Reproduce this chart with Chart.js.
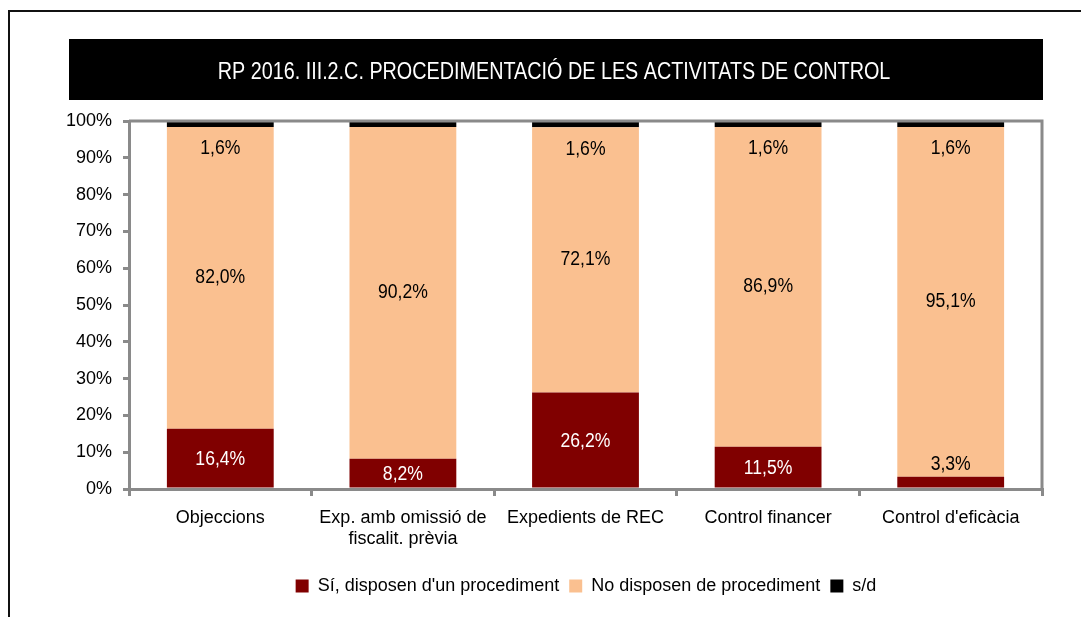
<!DOCTYPE html>
<html>
<head>
<meta charset="utf-8">
<script src="https://cdn.jsdelivr.net/npm/chart.js@4"></script>
<style>
html,body{margin:0;padding:0;background:#fff;}
#wrap{width:1081px;height:617px;position:relative;}
</style>
</head>
<body>
<div id="wrap"><canvas id="c" width="1081" height="617"></canvas></div>
<script>
const FONT = "'Liberation Sans', Arial, sans-serif";
const titleText = "RP 2016. III.2.C. PROCEDIMENTACIÓ DE LES ACTIVITATS DE CONTROL";
const categories = [["Objeccions"], ["Exp. amb omissió de", "fiscalit. prèvia"], ["Expedients de REC"], ["Control financer"], ["Control d'eficàcia"]];
const seriesNames = ["Sí, disposen d'un procediment", "No disposen de procediment", "s/d"];
const siValues = [16.4, 8.2, 26.2, 11.5, 3.3];
const noValues = [82.0, 90.2, 72.1, 86.9, 95.1];
const sdValues = [1.6, 1.6, 1.6, 1.6, 1.6];
const sdLabelShown = [true, false, true, true, true];
const yTicks = [0, 10, 20, 30, 40, 50, 60, 70, 80, 90, 100];

const fmt = v => v.toFixed(1).replace('.', ',') + '%';

function narrowText(ctx, text, x, y, sx) {
  ctx.save();
  ctx.translate(x, y);
  ctx.scale(sx, 1);
  ctx.fillText(text, 0, 0);
  ctx.restore();
}

const framePlugin = {
  id: 'frame',
  afterLayout(chart) {
    const lg = chart.legend;
    if (lg) { lg.left += 65; lg.right += 65; }
  },
  beforeDraw(chart) {
    const ctx = chart.ctx;
    ctx.save();
    ctx.fillStyle = '#fff';
    ctx.fillRect(0, 0, chart.width, chart.height);
    ctx.strokeStyle = '#111';
    ctx.lineWidth = 2;
    ctx.beginPath();
    ctx.moveTo(9, 617); ctx.lineTo(9, 11); ctx.lineTo(1081, 11);
    ctx.stroke();
    ctx.fillStyle = '#000';
    ctx.fillRect(69, 39, 974, 61);
    ctx.fillStyle = '#fff';
    ctx.font = "23px " + FONT;
    ctx.textAlign = 'center';
    ctx.textBaseline = 'middle';
    narrowText(ctx, titleText, 554, 73, 0.86);
    ctx.restore();
  },
  afterDatasetsDraw(chart) {
    const ctx = chart.ctx;
    const a = chart.chartArea;
    ctx.save();
    ctx.strokeStyle = '#8a8a8a';
    ctx.lineWidth = 3;
    ctx.beginPath();
    ctx.moveTo(a.left, a.top); ctx.lineTo(a.right, a.top); ctx.lineTo(a.right, a.bottom);
    ctx.stroke();
    // data labels
    ctx.font = "20px " + FONT;
    ctx.textAlign = 'center';
    ctx.textBaseline = 'middle';
    const sx = 0.88;
    const m0 = chart.getDatasetMeta(0), m1 = chart.getDatasetMeta(1), m2 = chart.getDatasetMeta(2);
    m0.data.forEach((bar, i) => {
      const v = siValues[i];
      const h = bar.base - bar.y;
      if (h > 22) {
        ctx.fillStyle = '#fff';
        narrowText(ctx, fmt(v), bar.x, (bar.y + bar.base) / 2 + 1, sx);
      } else {
        ctx.fillStyle = '#000';
        narrowText(ctx, fmt(v), bar.x, bar.y - 12, sx);
      }
    });
    m1.data.forEach((bar, i) => {
      ctx.fillStyle = '#000';
      narrowText(ctx, fmt(noValues[i]), bar.x, (bar.y + bar.base) / 2, sx);
    });
    m2.data.forEach((bar, i) => {
      if (!sdLabelShown[i]) return;
      ctx.fillStyle = '#000';
      narrowText(ctx, fmt(sdValues[i]), bar.x, bar.base + 22, sx);
    });
    ctx.restore();
  }
};

new Chart(document.getElementById('c'), {
  type: 'bar',
  data: {
    labels: categories,
    datasets: [
      { label: seriesNames[0], data: siValues, backgroundColor: '#800000' },
      { label: seriesNames[1], data: noValues, backgroundColor: '#FAC090' },
      { label: seriesNames[2], data: sdValues, backgroundColor: '#000000' }
    ]
  },
  options: {
    responsive: false,
    animation: false,
    devicePixelRatio: 1,
    layout: { padding: { left: 0, right: 39, top: 121, bottom: 12 } },
    datasets: { bar: { barPercentage: 0.585, categoryPercentage: 1.0, borderWidth: 0 } },
    plugins: {
      title: { display: false },
      tooltip: { enabled: false },
      legend: {
        position: 'bottom',
        labels: {
          font: { family: FONT, size: 18 },
          color: '#000',
          boxWidth: 13,
          boxHeight: 13,
          padding: 10
        }
      }
    },
    scales: {
      x: {
        stacked: true,
        afterFit: s => { s.height = 78; },
        grid: { drawOnChartArea: false, drawTicks: true, tickLength: 7, color: '#8a8a8a', lineWidth: 3, offset: true },
        border: { display: true, color: '#8a8a8a', width: 3 },
        ticks: { font: { family: FONT, size: 18 }, color: '#000', padding: 11, maxRotation: 0, autoSkip: false }
      },
      y: {
        stacked: true,
        min: 0, max: 100,
        afterFit: s => { s.width = 129; },
        afterBuildTicks: s => { s.ticks = yTicks.map(v => ({ value: v })); },
        grid: { drawOnChartArea: false, drawTicks: true, tickLength: 6, color: '#8a8a8a', lineWidth: 3 },
        border: { display: true, color: '#8a8a8a', width: 3 },
        ticks: { font: { family: FONT, size: 18 }, color: '#000', padding: 11, callback: v => v + '%' }
      }
    }
  },
  plugins: [framePlugin]
});
</script>
</body>
</html>
